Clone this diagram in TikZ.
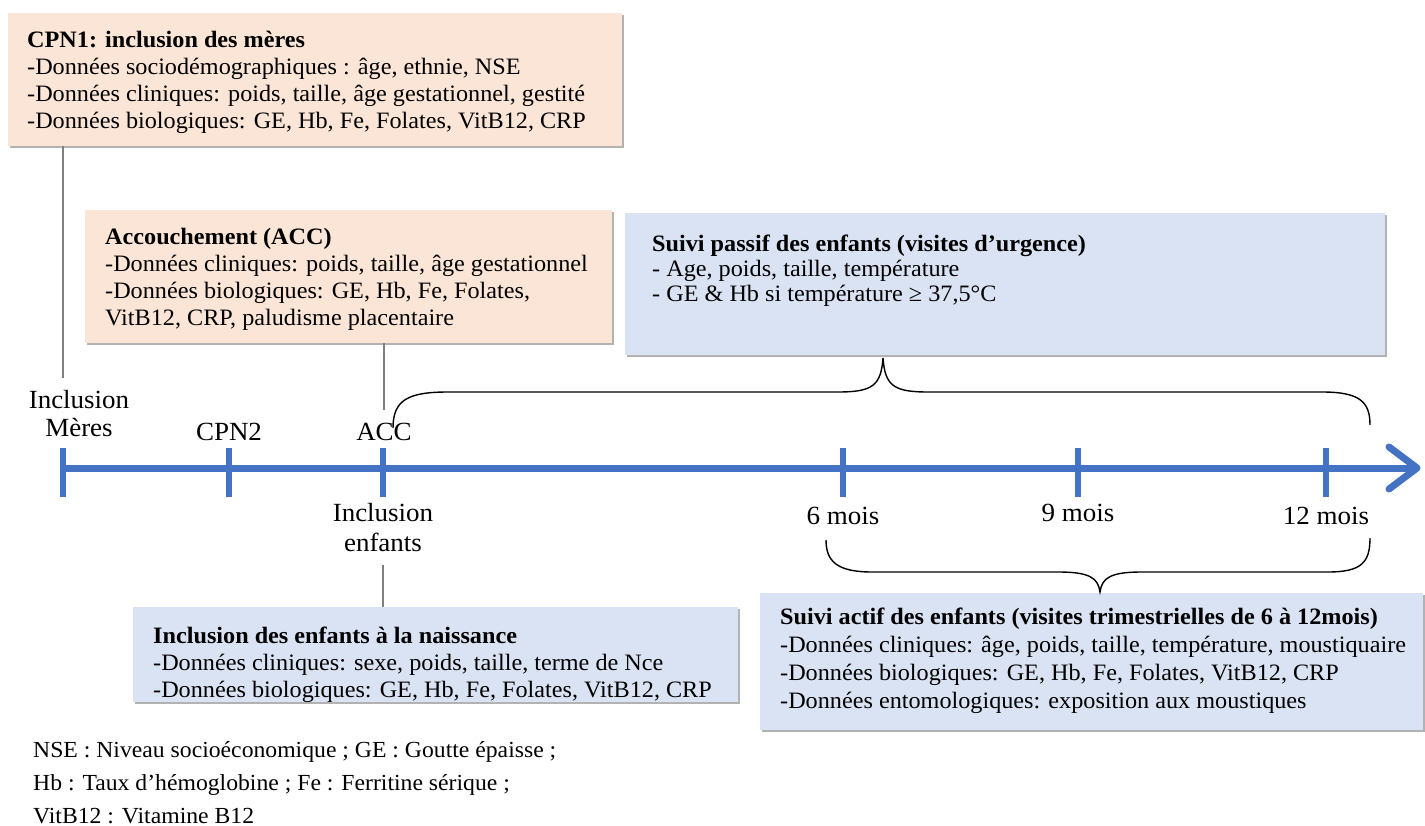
\documentclass[tikz,border=0pt]{standalone}
\usepackage{fontspec}
\setmainfont[FakeStretch=1.03]{Liberation Serif}
\usetikzlibrary{shadows}
\definecolor{peach}{HTML}{FBE5D6}
\definecolor{paleblue}{HTML}{DAE3F3}
\definecolor{tlblue}{HTML}{4472C4}
\definecolor{conngray}{HTML}{7F7F7F}
\begin{document}
\begin{tikzpicture}[x=1pt,y=-1pt,
  boxbase/.style={draw=none, inner sep=0, anchor=north west,
    drop shadow={shadow xshift=2pt, shadow yshift=-2pt, fill=black!30, opacity=1}},
  peachbox/.style={boxbase, fill=peach},
  bluebox/.style={boxbase, fill=paleblue},
  boxtext/.style={inner sep=0, anchor=north west, align=left, font=\fontsize{23.5}{27}\selectfont},
  tllabel/.style={inner sep=13pt, align=center, font=\fontsize{26.2}{29}\selectfont},
  connector/.style={draw=conngray, line width=1.6pt},
  timeline/.style={draw=tlblue, line width=7pt},
  tickmark/.style={draw=tlblue, line width=5.5pt},
  bracestyle/.style={draw=black, line width=1.4pt},
  foot/.style={inner sep=0, anchor=base west, font=\fontsize{23}{27}\selectfont}
]
\useasboundingbox (0,0) rectangle (1425,826);

% boxes
\node[peachbox, minimum width=614pt, minimum height=133pt] (b1) at (8,13) {};
\node[boxtext] (t1) at (27,31) {\textbf{CPN1: inclusion des mères}\\
-Données sociodémographiques : âge, ethnie, NSE\\
-Données cliniques: poids, taille, âge gestationnel, gestité\\
-Données biologiques: GE, Hb, Fe, Folates, VitB12, CRP};

\node[peachbox, minimum width=527pt, minimum height=133pt] (b2) at (85,210) {};
\node[boxtext] (t2) at (105,228) {\textbf{Accouchement (ACC)}\\
-Données cliniques: poids, taille, âge gestationnel\\
-Données biologiques: GE, Hb, Fe, Folates,\\
VitB12, CRP, paludisme placentaire};

\node[bluebox, minimum width=760pt, minimum height=142pt] (b3) at (625,213) {};
\node[boxtext, font=\fontsize{23.5}{25}\selectfont] (t3) at (652,235) {\textbf{Suivi passif des enfants (visites d’urgence)}\\
- Age, poids, taille, température\\
- GE \& Hb si température ≥ 37,5°C};

\node[bluebox, minimum width=605pt, minimum height=95pt] (b4) at (133,607) {};
\node[boxtext] (t4) at (153,627) {\textbf{Inclusion des enfants à la naissance}\\
-Données cliniques: sexe, poids, taille, terme de Nce\\
-Données biologiques: GE, Hb, Fe, Folates, VitB12, CRP};

\node[bluebox, minimum width=663pt, minimum height=137pt] (b5) at (760,593) {};
\node[boxtext, font=\fontsize{23.5}{28}\selectfont] (t5) at (780,608) {\textbf{Suivi actif des enfants (visites trimestrielles de 6 à 12mois)}\\
-Données cliniques: âge, poids, taille, température, moustiquaire\\
-Données biologiques: GE, Hb, Fe, Folates, VitB12, CRP\\
-Données entomologiques: exposition aux moustiques};

% timeline
\coordinate (tk1) at (63,468);
\coordinate (tk2) at (229,468);
\coordinate (tk3) at (383,468);
\coordinate (tk4) at (843,468);
\coordinate (tk5) at (1078,468);
\coordinate (tk6) at (1326,468);
\coordinate (tip) at (1417,468);
\draw[timeline] (tk1) -- (tip);
\draw[timeline, line join=round, line cap=round] (1389,447) -- (tip) -- (1389,489);
\foreach \t in {tk1,tk2,tk3,tk4,tk5,tk6}
  \draw[tickmark] ([yshift=20pt]\t) -- ([yshift=-29pt]\t);

% timeline labels
\node[tllabel] (incm) at (79,414) {Inclusion\\[-1pt]Mères};
\node[tllabel] (cpn2) at (229,432) {CPN2};
\node[tllabel] (acc) at (384,432) {ACC};
\node[tllabel] (incenf) at (383,528) {Inclusion\\[1pt]enfants};
\node[tllabel] (m6) at (843,516) {6 mois};
\node[tllabel] (m9) at (1078,513) {9 mois};
\node[tllabel] (m12) at (1326,516) {12 mois};

% connectors
\draw[connector] (b1.south -| tk1) -- (tk1 |- incm.north);
\draw[connector] (b2.south -| acc) -- (acc.north);
\draw[connector] (incenf.south) -- (b4.north -| incenf);

% top brace
\draw[bracestyle] (393,428) .. controls (393,400) and (408,392) .. (448,392)
  -- (838,392) .. controls (872,392) and (881,386) .. (883,358)
  .. controls (885,386) and (894,392) .. (928,392)
  -- (1322,392) .. controls (1360,392) and (1370,402) .. (1370,425);
% bottom brace
\draw[bracestyle] (826,540) .. controls (826,562) and (838,572) .. (872,572)
  -- (1058,572) .. controls (1090,572) and (1098,578) .. (1100,592)
  .. controls (1102,578) and (1110,572) .. (1142,572)
  -- (1328,572) .. controls (1362,572) and (1370,562) .. (1370,538);

% footnotes
\node[foot] (f1) at (33,757) {NSE : Niveau socioéconomique ; GE : Goutte épaisse ;};
\node[foot] (f2) at (33,790) {Hb : Taux d’hémoglobine ; Fe : Ferritine sérique ;};
\node[foot] (f3) at (33,823) {VitB12 : Vitamine B12};
\end{tikzpicture}
\end{document}
